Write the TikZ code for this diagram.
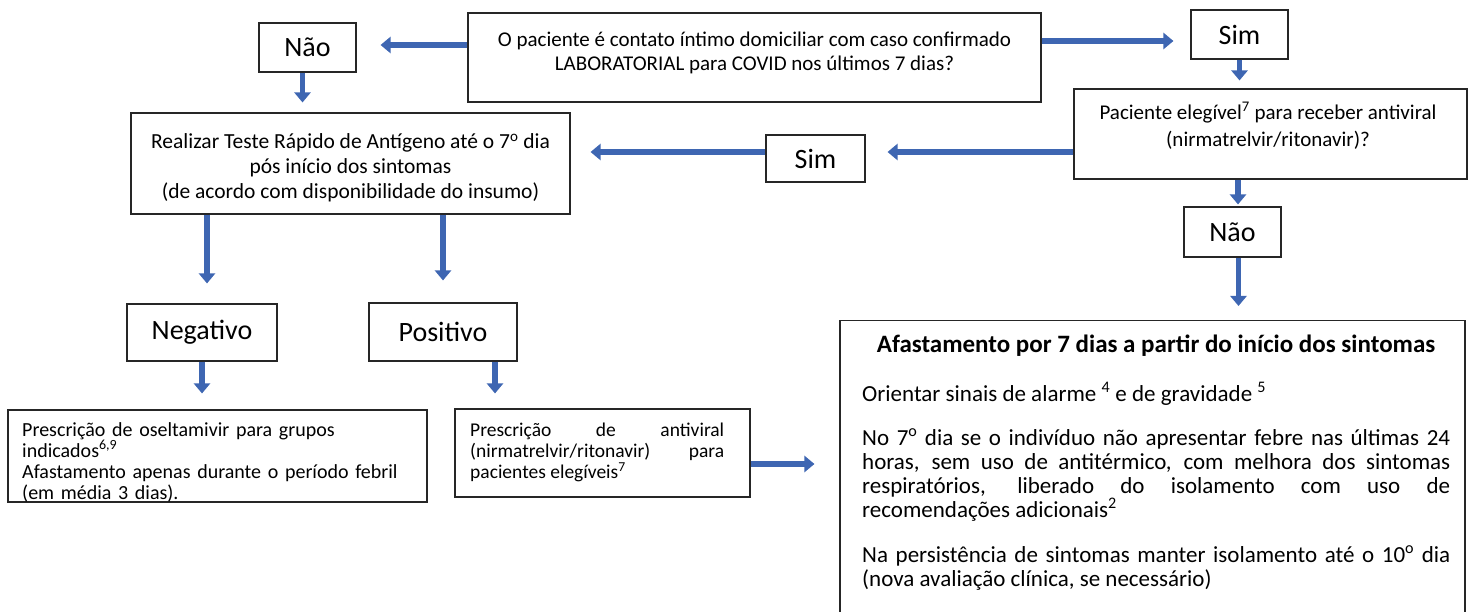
\documentclass[tikz,border=0pt]{standalone}
\usepackage{fontspec}
\setmainfont{Carlito}
\usetikzlibrary{shapes,arrows.meta,positioning}
\definecolor{azulseta}{RGB}{62,102,178}
\tikzset{
  caixa/.style={draw=black!85, line width=1.1pt, fill=white, inner sep=0pt},
  rotulo/.style={font=\fontsize{28}{30}\selectfont},
  texto/.style={inner sep=0pt, align=center, font=\fontsize{21}{24}\selectfont},
  seta/.style={draw=azulseta, line width=5.5pt, -{Triangle[length=10pt,width=16pt]}},
}

\begin{document}
\begin{tikzpicture}[x=1pt,y=-1pt]
\clip (0,0) rectangle (1472,612);

\node[caixa, rotulo, minimum width=97pt, minimum height=49pt] (nao1) at (307.5,47.5) {Não};
\node[caixa, minimum width=573pt, minimum height=89pt] (pergunta) at (754.5,57.5) {};
\node[texto] (pergunta-txt) at (754.5,53) {O paciente é contato íntimo domiciliar com caso confirmado\\LABORATORIAL para COVID nos últimos 7 dias?};
\node[caixa, rotulo, minimum width=97pt, minimum height=49pt] (sim1) at (1239.5,34.5) {Sim};
\node[caixa, minimum width=393pt, minimum height=90pt] (elegivel) at (1270.5,134) {};
\node[texto, font=\fontsize{21}{27}\selectfont] (elegivel-txt) at (1268,126) {Paciente elegível\textsuperscript{7} para receber antiviral\\(nirmatrelvir/ritonavir)?};
\node[caixa, rotulo, minimum width=99pt, minimum height=47pt] (sim2) at (815.5,158.5) {Sim};
\node[caixa, minimum width=439pt, minimum height=101pt] (realizar) at (350.5,163.5) {};
\node[texto, font=\fontsize{21.5}{25}\selectfont] (realizar-txt) at (350.5,168) {Realizar Teste Rápido de Antígeno até o 7\textsuperscript{o} dia\\pós início dos sintomas\\(de acordo com disponibilidade do insumo)};
\node[caixa, rotulo, minimum width=150pt, minimum height=57pt] (negativo) at (202,332.5) {Negativo};
\node[caixa, rotulo, minimum width=148pt, minimum height=58pt] (positivo) at (443,332) {Positivo};
\node[caixa, minimum width=419pt, minimum height=92pt] (oseltamivir) at (217.5,456) {};
\node[texto, anchor=north west, text width=400pt, align=left, font=\fontsize{20}{21}\selectfont] (oseltamivir-txt) at (22,422) {Prescrição de oseltamivir para grupos\\indicados\textsuperscript{6,9}\\Afastamento apenas durante o período febril\\(em média 3 dias).};
\node[caixa, minimum width=295pt, minimum height=88pt] (antiviral) at (602.5,453) {};
\node[texto, anchor=north west, text width=254pt, align=justify, font=\fontsize{19.5}{21}\selectfont] (antiviral-txt) at (470,423) {Prescrição de antiviral\linebreak (nirmatrelvir/ritonavir) para\linebreak pacientes elegíveis\textsuperscript{7}};
\node[caixa, rotulo, minimum width=97pt, minimum height=50pt] (nao2) at (1232.5,232) {Não};
\node[caixa, anchor=north, minimum width=625pt, minimum height=310pt] (afastamento) at (1152.5,320) {};
\node[texto, font=\bfseries\fontsize{25}{27}\selectfont] (afastamento-titulo) at (1156,346) {Afastamento por 7 dias a partir do início dos sintomas};
\node[texto, anchor=north west, text width=588pt, align=justify, font=\fontsize{23}{24}\selectfont] (afastamento-txt) at (862,382) {Orientar sinais de alarme \textsuperscript{4} e de gravidade \textsuperscript{5}\\[20pt]
No 7\textsuperscript{o} dia se o indivíduo não apresentar febre nas últimas 24\linebreak horas, sem uso de antitérmico, com melhora dos sintomas\linebreak respiratórios, liberado do isolamento com uso de\linebreak recomendações adicionais\textsuperscript{2}\\[21pt]
Na persistência de sintomas manter isolamento até o 10\textsuperscript{o} dia\linebreak (nova avaliação clínica, se necessário)};

\draw[seta, shorten >=24pt] ([yshift=12.5pt]pergunta.west) -- ([yshift=12.5pt]pergunta.west -| nao1.east);
\draw[seta, shorten >=17pt] ([yshift=16.5pt]pergunta.east) -- ([yshift=16.5pt]pergunta.east -| sim1.west);
\draw[seta, shorten >=8pt] (sim1.south) -- (sim1.south |- elegivel.north);
\draw[seta, shorten >=22pt] ([yshift=-18pt]elegivel.west) -- ([yshift=-18pt]elegivel.west -| sim2.east);
\draw[seta, shorten >=20pt] ([yshift=6.5pt]sim2.west) -- ([yshift=6.5pt]sim2.west -| realizar.east);
\draw[seta, shorten >=10pt] ([xshift=-5pt]nao1.south) -- ([xshift=-5pt]nao1.south |- realizar.north);
\draw[seta, shorten >=20pt] ([xshift=5pt]negativo.north |- realizar.south) -- ([xshift=5pt]negativo.north);
\draw[seta, shorten >=22pt] (positivo.north |- realizar.south) -- (positivo.north);
\draw[seta, shorten >=16pt] (negativo.south) -- (negativo.south |- oseltamivir.north);
\draw[seta, shorten >=15pt] ([xshift=52pt]positivo.south) -- ([xshift=52pt]positivo.south |- antiviral.north);
\draw[seta, shorten >=25pt] ([yshift=-11pt]antiviral.east) -- ([yshift=-11pt]antiviral.east -| afastamento.west);
\draw[seta, shorten >=2pt] ([xshift=5.5pt]nao2.north |- elegivel.south) -- ([xshift=5.5pt]nao2.north);
\draw[seta, shorten >=14pt] ([xshift=6pt]nao2.south) -- ([xshift=6pt]nao2.south |- afastamento.north);
\end{tikzpicture}
\end{document}
